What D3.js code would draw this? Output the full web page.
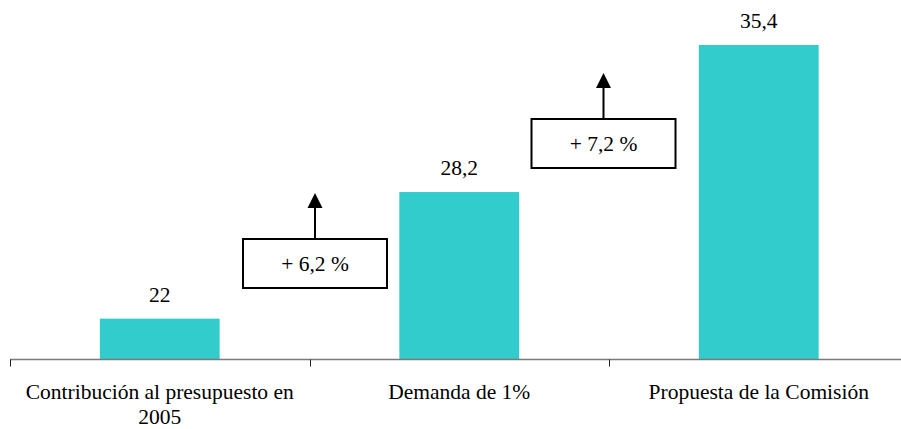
<!DOCTYPE html>
<html>
<head>
<meta charset="utf-8">
<script src="https://cdn.jsdelivr.net/npm/d3@7"></script>
<style>
  html, body { margin: 0; padding: 0; background: #fff; }
  svg { display: block; }
</style>
</head>
<body>
<svg id="chart" width="901" height="429"></svg>
<script>
const categories = [["Contribución al presupuesto en", "2005"], ["Demanda de 1%"], ["Propuesta de la Comisión"]];
const values = [22, 28.2, 35.4];
const valueLabels = ["22", "28,2", "35,4"];
const changeLabels = ["+ 6,2 %", "+ 7,2 %"];

const W = 901, H = 429;
const FONT = "'Liberation Serif'";
const FS = 21.5;
const svg = d3.select("#chart");
const ids = d3.range(values.length);

const x = d3.scaleBand().domain(ids).range([10, 908.5]).padding(0);
const y = d3.scaleLinear().domain([20, 35.4]).range([359.5, 45]);
const barW = x.bandwidth() * 0.4;

// bars
svg.append("g").selectAll("rect").data(ids).join("rect")
  .attr("x", i => x(i) + (x.bandwidth() - barW) / 2)
  .attr("width", barW)
  .attr("y", i => y(values[i]))
  .attr("height", i => y.range()[0] - y(values[i]))
  .attr("fill", "#33CCCC");

// value labels
svg.append("g").selectAll("text").data(ids).join("text")
  .attr("x", i => x(i) + x.bandwidth() / 2)
  .attr("y", i => y(values[i]) - 17)
  .attr("text-anchor", "middle")
  .attr("fill", "#000")
  .style("font-family", FONT).style("font-size", FS + "px")
  .text(i => valueLabels[i]);

// axis line
const y0 = y.range()[0];
svg.append("line")
  .attr("x1", 10).attr("x2", W).attr("y1", y0).attr("y2", y0)
  .attr("stroke", "#7a7a7a").attr("stroke-width", 1.5);
// ticks at band starts
svg.append("g").selectAll("line").data(ids).join("line")
  .attr("x1", i => Math.round(x(i)) + 0.5).attr("x2", i => Math.round(x(i)) + 0.5)
  .attr("y1", y0).attr("y2", y0 + 7)
  .attr("stroke", "#222").attr("stroke-width", 1);

// category labels
const cat = svg.append("g").selectAll("text").data(ids).join("text")
  .attr("x", i => x(i) + x.bandwidth() / 2)
  .attr("y", 399)
  .attr("text-anchor", "middle")
  .attr("fill", "#000")
  .style("font-family", FONT).style("font-size", FS + "px");
cat.each(function(i) {
  const t = d3.select(this);
  categories[i].forEach((line, k) => {
    t.append("tspan").attr("x", x(i) + x.bandwidth() / 2).attr("dy", k === 0 ? 0 : 25).text(line);
  });
});

// change annotations (box + arrow) between bars
const boxW = 144, boxH = 49;
const boxOffsets = [5.5, -5.5];
const boxTops = [239, 119];
const arrowLen = 46;
const ann = svg.append("g").selectAll("g").data(d3.range(changeLabels.length)).join("g");
ann.each(function(j) {
  const g = d3.select(this);
  const cx = x(j + 1) + boxOffsets[j];
  const top = boxTops[j];
  g.append("rect")
    .attr("x", cx - boxW / 2).attr("y", top)
    .attr("width", boxW).attr("height", boxH)
    .attr("fill", "#fff").attr("stroke", "#000").attr("stroke-width", 2);
  g.append("text")
    .attr("x", cx).attr("y", top + boxH / 2 + 7)
    .attr("text-anchor", "middle")
    .attr("fill", "#000")
    .style("font-family", FONT).style("font-size", FS + "px")
    .text(changeLabels[j]);
  const tip = top - arrowLen;
  g.append("line")
    .attr("x1", cx).attr("x2", cx).attr("y1", top).attr("y2", tip + 12)
    .attr("stroke", "#000").attr("stroke-width", 2);
  g.append("path")
    .attr("d", `M${cx},${tip} L${cx - 7.5},${tip + 15} L${cx + 7.5},${tip + 15} Z`)
    .attr("fill", "#000");
});
</script>
</body>
</html>
